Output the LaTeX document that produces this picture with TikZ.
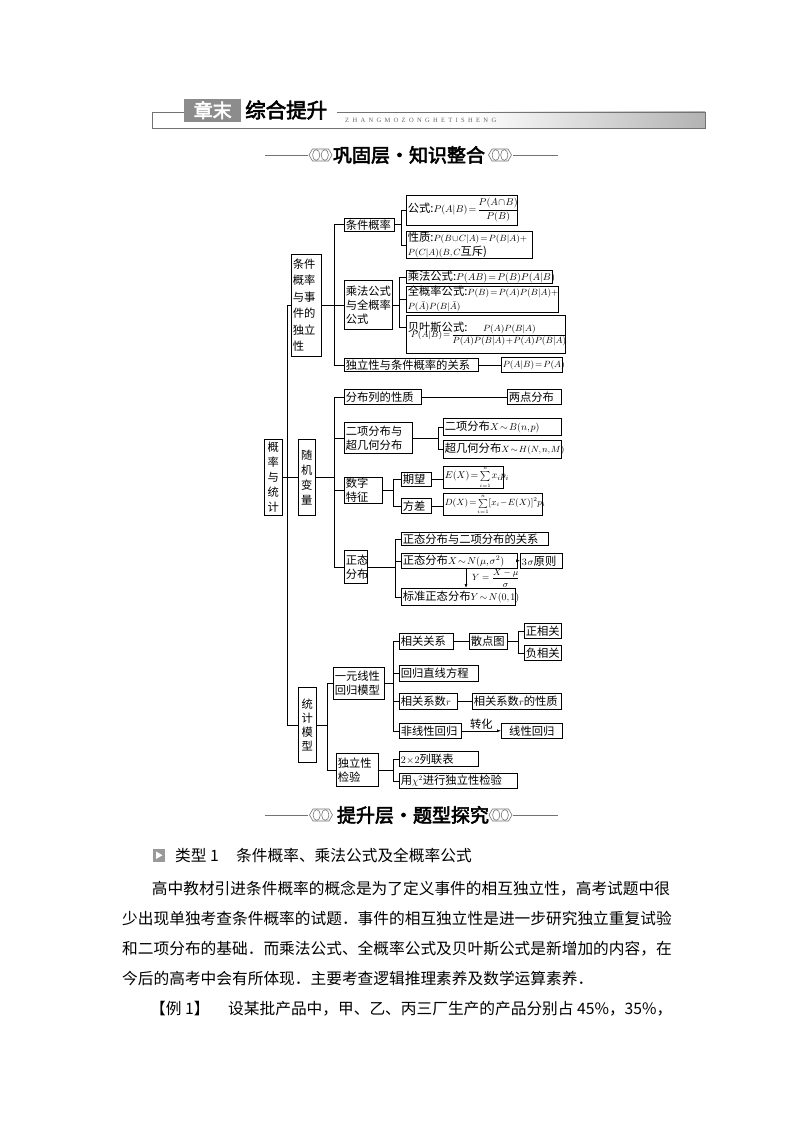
\documentclass[tikz,border=0pt]{standalone}
\usepackage{amsmath}
\usepackage[no-math]{fontspec}
\setmainfont{Noto Sans CJK SC}[AutoFakeBold=3]
\newfontfamily\pyfont{Liberation Serif}
\usetikzlibrary{arrows.meta}
\newcommand\treefont{\fontsize{11.3}{13.5}\selectfont\thickmuskip=2mu\medmuskip=1mu\thinmuskip=1.5mu}
\newcommand\bodyfont{\fontsize{15.7}{18}\selectfont}
\newcommand\M[1]{{\fontsize{9.7}{13.5}\selectfont$#1$}}
\newcommand\Ms[1]{{\fontsize{9}{13.5}\selectfont$#1$}}
\newcommand\Bx[7][]{\node[bx,#1,text width=#5pt,minimum height=#6pt] (#2) at (#3,#4) {#7};}
\newcommand\orn[2]{\begin{scope}[shift={(#1,#2)}, draw=black!55, line width=0.6pt]
 \draw (-11.5,0) -- (-8,-6) -- (8,-6) -- (11.5,0) -- (8,6) -- (-8,6) -- cycle;
 \draw (-4.3,0) ellipse [x radius=3.6pt, y radius=5.4pt];
 \draw (4.3,0) ellipse [x radius=3.6pt, y radius=5.4pt];
\end{scope}}
\tikzset{
 bx/.style={draw, line width=0.6pt, anchor=north west, inner xsep=1.5pt, inner ysep=0pt, align=left, font=\treefont},
 vbx/.style={bx, align=center},
 ln/.style={line width=0.6pt},
 arr/.style={line width=0.6pt, -{Latex[length=4pt,width=3pt]}},
 bodytxt/.style={anchor=base west, inner sep=0pt, font=\bodyfont},
 ttl/.style={inner sep=0pt, font=\fontsize{19}{20}\selectfont\bfseries},
 tline/.style={draw=black!55, line width=0.8pt},
}
\begin{document}
\relpenalty=10000
\binoppenalty=10000
\begin{tikzpicture}[x=1pt,y=-1pt]
\useasboundingbox (0,0) rectangle (794,1123);
\fill[white] (0,0) rectangle (794,1123);

% ---------- header ----------
\shade[left color=white, right color=black!30] (470,112) rectangle (705,128);
\draw[black!55, line width=0.7pt] (185,112) -- (152,112) -- (152,128) -- (705,128) -- (705,112) -- (337,112);
\node[fill=black!45, text=white, font=\fontsize{19}{20}\selectfont\bfseries, inner sep=0pt,
      minimum width=57, minimum height=23, anchor=north west] (zm) at (184,98.5) {章末};
\node[anchor=west, font=\fontsize{20.5}{21}\selectfont\bfseries, inner sep=0pt] (zh) at (245,110) {综合提升};
\node[anchor=west, inner sep=0pt, text=black!60, font=\pyfont\fontsize{6.5}{7}\selectfont] (py) at (345,120)
  {\makebox[151pt][s]{Z\hfil H\hfil A\hfil N\hfil G\hfil M\hfil O\hfil Z\hfil O\hfil N\hfil G\hfil H\hfil E\hfil T\hfil I\hfil S\hfil H\hfil E\hfil N\hfil G}};

% ---------- section title 1 ----------
\draw[tline] (265,155) -- (308,155);
\draw[tline] (513,155) -- (558,155);
\orn{320.5}{155}
\orn{500}{155}
\node[ttl] (t1) at (409,155) {巩固层・知识整合};

% ---------- tree ----------
\Bx[vbx,font=\fontsize{11.3}{15}\selectfont]{A0}{264}{439}{15}{76}{概\\率\\与\\统\\计}
\Bx[font=\fontsize{11.3}{16.5}\selectfont]{A1}{291}{254}{27}{102}{条件\\概率\\与事\\件的\\独立\\性}
\Bx[vbx,font=\fontsize{11.3}{15}\selectfont]{A2}{298}{439}{14}{76}{随\\机\\变\\量}
\Bx[vbx,font=\fontsize{11.3}{14}\selectfont]{A3}{298}{687}{15}{75}{统\\计\\模\\型}

\Bx{B1}{344}{218}{47}{13}{条件概率}
\Bx[font=\fontsize{11.3}{14}\selectfont]{B2}{344}{280}{45}{49}{乘法公式\\与全概率\\公式}
\Bx{B3}{344}{358}{131}{13}{独立性与条件概率的关系}
\Bx{C1}{406}{195}{108}{30}{公式:\M{P(A|B)=\dfrac{P(A\cap B)}{P(B)}}}
\Bx{C2}{406}{231}{123}{27}{性质:\Ms{P(B\cup C|A)=P(B|A)+}\\\Ms{P(C|A)(B,C}互斥)}
\Bx{C3}{406}{270}{143}{13}{乘法公式:\M{P(AB)=P(B)P(A|B)}}
\Bx{C4}{406}{286}{149}{26}{全概率公式:\Ms{P(B)=P(A)P(B|A)+}\\[0.5pt]\Ms{P(\bar{A})P(B|\bar{A})}}
\Bx{C5}{406}{315}{156}{38}{贝叶斯公式:\\[-9pt]\hspace*{3pt}\Ms{P(A|B)=\dfrac{P(A)P(B|A)}{P(A)P(B|A)+P(\bar{A})P(B|\bar{A})}}}
\Bx{C6}{501}{357}{58}{15}{\Ms{P(A|B)=P(A)}}

\Bx{D1}{344}{389}{74}{15}{分布列的性质}
\Bx{D1b}{507}{389}{51}{15}{两点分布}
\Bx[font=\fontsize{11.3}{14}\selectfont]{D2}{344}{422}{65}{31}{二项分布与\\超几何分布}
\Bx{D2a}{443}{418}{115}{17}{二项分布\M{X\sim B(n,p)}}
\Bx{D2b}{443}{440}{115}{18}{超几何分布\Ms{X\sim H(N,n,M)}}
\Bx[font=\fontsize{11.3}{14}\selectfont]{D3}{344}{477}{35}{26}{数字\\特征}
\Bx{D3a}{401}{472}{27}{14}{期望}
\Bx{D3b}{401}{498}{27}{15}{方差}
\Bx{D3c}{443}{466}{57}{21}{\M{E(X)=\sum\limits_{\scriptscriptstyle i=1}^{\scriptscriptstyle n}x_ip_i}}
\Bx{D3d}{443}{493}{96}{22}{\Ms{D(X)=\sum\limits_{\scriptscriptstyle i=1}^{\scriptscriptstyle n}[x_i-E(X)]^2p_i}}
\Bx[font=\fontsize{11.3}{14}\selectfont]{D4}{344}{550}{20}{33}{正态\\分布}
\Bx{D4a}{401}{532}{144}{13}{正态分布与二项分布的关系}
\Bx{D4b}{401}{553}{113}{15}{正态分布\M{X\sim N(\mu,\sigma^2)}}
\Bx{D4c}{401}{588}{111}{17}{标准正态分布\M{Y\sim N(0,1)}}
\Bx{D4d}{520}{553}{39}{15}{\M{3\,\sigma}原则}

\Bx[font=\fontsize{11.3}{14}\selectfont]{E1}{333}{667}{48}{32}{一元线性\\回归模型}
\Bx{E1a}{399}{633}{51}{16}{相关关系}
\Bx{E1b}{469}{633}{35}{16}{散点图}
\Bx{E1c}{524}{623}{34}{15}{正相关}
\Bx{E1d}{524}{645}{34}{15}{负相关}
\Bx{E1e}{399}{665}{76}{16}{回归直线方程}
\Bx{E1f}{399}{693}{55}{16}{相关系数\M{r}}
\Bx{E1g}{472}{693}{86}{16}{相关系数\M{r}的性质}
\Bx{E1h}{399}{723}{59}{15}{非线性回归}
\Bx[align=center]{E1i}{501}{723}{58}{15}{线性回归}
\Bx[font=\fontsize{11.3}{14}\selectfont]{E2}{336}{753}{39}{33}{独立性\\检验}
\Bx{E2a}{399}{751}{76}{15}{\M{2\times2}列联表}
\Bx{E2b}{399}{773}{115}{15}{用\M{\chi^2}进行独立性检验}

% bus coordinates
\coordinate (k0) at (287,0);
\coordinate (k1) at (334,0);
\coordinate (k2) at (401,0);
\coordinate (k3) at (399,0);
\coordinate (k4) at (438,0);
\coordinate (k5) at (393,0);
\coordinate (k6) at (395,0);
\coordinate (k7) at (327,0);
\coordinate (k8) at (518,0);
\coordinate (ka) at (466,0);

\foreach \c in {A1,A2,A3} \draw[ln] (A0.east) -- (A0.east -| k0) |- (\c.west);
\foreach \c in {B1,B2,B3} \draw[ln] (A1.east) -- (A1.east -| k1) |- (\c.west);
\foreach \c in {C1,C2} \draw[ln] (B1.east) -- (B1.east -| k2) |- (\c.west);
\foreach \c in {C3,C4} \draw[ln] (B2.east) -- (B2.east -| k3) |- (\c.west);
\draw[ln] (B2.east -| k3) |- ([yshift=7pt]C5.west);
\draw[ln] (B3.east) -- (C6.west);

\foreach \c in {D1,D2,D3,D4} \draw[ln] (A2.east) -- (A2.east -| k1) |- (\c.west);
\draw[ln] (D1.east) -- (D1b.west);
\foreach \c in {D2a,D2b} \draw[ln] (D2.east) -- (D2.east -| k4) |- (\c.west);
\foreach \c in {D3a,D3b} \draw[ln] (D3.east) -- (D3.east -| k5) |- (\c.west);
\draw[ln] (D3a.east) -- (D3a.east -| D3c.west);
\draw[ln] (D3b.east) -- (D3b.east -| D3d.west);
\foreach \c in {D4a,D4b,D4c} \draw[ln] (D4.east) -- (D4.east -| k6) |- (\c.west);
\draw[arr] (D4b.east) -- (D4d.west);
\draw[arr] (D4b.south -| ka) -- (D4c.north -| ka);
\node[anchor=west, inner sep=0pt, font=\fontsize{9}{10}\selectfont] (ylab) at (472,578) {$Y=\dfrac{X-\mu}{\sigma}$};

\foreach \c in {E1,E2} \draw[ln] (A3.east) -- (A3.east -| k7) |- (\c.west);
\foreach \c in {E1a,E1e,E1f,E1h} \draw[ln] (E1.east) -- (E1.east -| k5) |- (\c.west);
\draw[ln] (E1a.east) -- (E1b.west);
\foreach \c in {E1c,E1d} \draw[ln] (E1b.east) -- (E1b.east -| k8) |- (\c.west);
\draw[ln] (E1f.east) -- (E1g.west);
\draw[arr] (E1h.east) -- node[above, font=\treefont, inner sep=1.5pt] (zhl) {转化} (E1i.west);
\foreach \c in {E2a,E2b} \draw[ln] (E2.east) -- (E2.east -| k5) |- (\c.west);

% ---------- section title 2 ----------
\draw[tline] (265,815) -- (308,815);
\draw[tline] (513,815) -- (558,815);
\orn{321}{815}
\orn{500.5}{815}
\node[ttl] (t2) at (413,815) {提升层・题型探究};

% ---------- text ----------
\fill[black!40] (152.7,849) rectangle (165,861.5);
\fill[white] (156,851.5) -- (156,859) -- (162.5,855.25) -- cycle;
\node[bodytxt] (h1) at (175,861) {类型 1};
\node[bodytxt] (h2) at (236,861) {条件概率、乘法公式及全概率公式};
\node[bodytxt] (p1) at (151.7,894.4) {高中教材引进条件概率的概念是为了定义事件的相互独立性，高考试题中很};
\node[bodytxt] (p2) at (122,924) {少出现单独考查条件概率的试题．事件的相互独立性是进一步研究独立重复试验};
\node[bodytxt] (p3) at (122,954) {和二项分布的基础．而乘法公式、全概率公式及贝叶斯公式是新增加的内容，在};
\node[bodytxt] (p4) at (122,984) {今后的高考中会有所体现．主要考查逻辑推理素养及数学运算素养．};
\node[bodytxt] (p5) at (150,1014) {【例 1】};
\node[bodytxt] (p6) at (228,1014) {设某批产品中，甲、乙、丙三厂生产的产品分别占 45\%，35\%，};
\end{tikzpicture}
\end{document}
